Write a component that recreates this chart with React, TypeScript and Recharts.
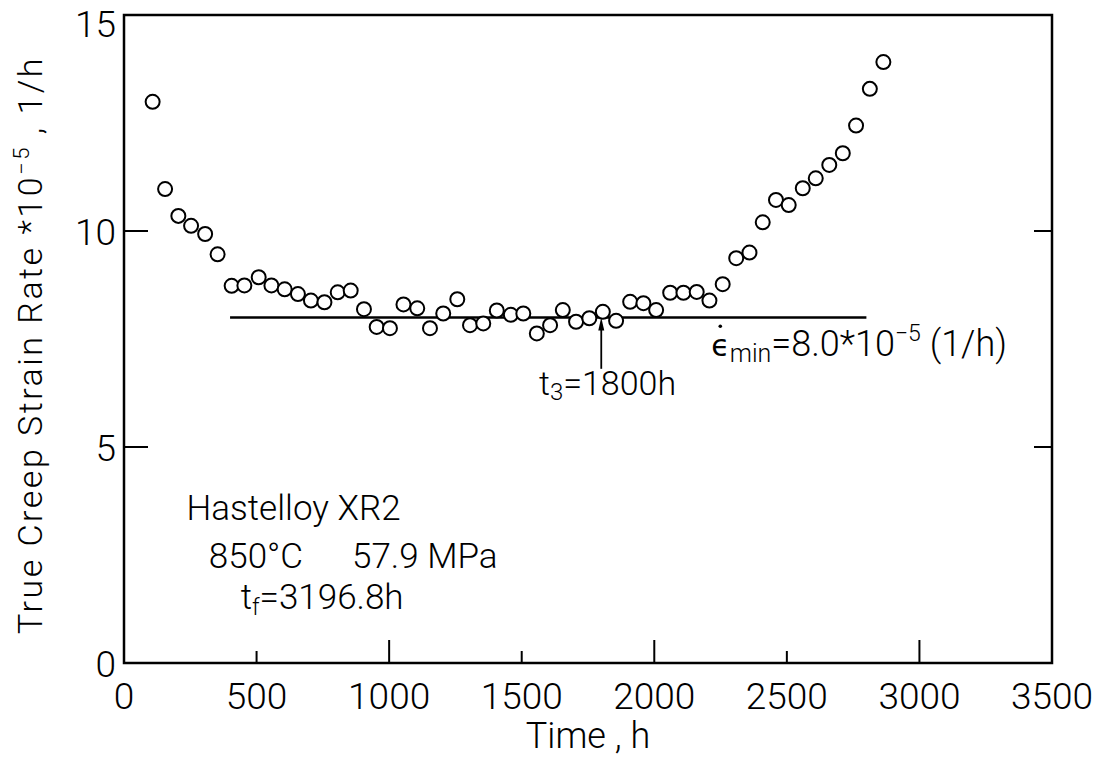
import React from "react";
import { ComposedChart, Scatter, XAxis, YAxis, ReferenceLine, ReferenceArea, ReferenceDot } from "recharts";

// creep test, Hastelloy XR2 at 850°C / 57.9 MPa
const times = [108, 155, 205, 253, 306, 353, 406, 454, 508, 556, 606, 656, 705, 756, 806, 855, 905, 953, 1003, 1054, 1106, 1154, 1204, 1257, 1305, 1355, 1406, 1459, 1506, 1557, 1607, 1655, 1705, 1755, 1806, 1856, 1909, 1959, 2007, 2060, 2110, 2160, 2208, 2258, 2309, 2359, 2409, 2459, 2507, 2560, 2609, 2660, 2711, 2761, 2813, 2864];
const rates = [12.99, 10.97, 10.35, 10.12, 9.93, 9.46, 8.73, 8.74, 8.93, 8.74, 8.65, 8.54, 8.39, 8.35, 8.58, 8.62, 8.19, 7.78, 7.75, 8.3, 8.21, 7.75, 8.09, 8.42, 7.82, 7.86, 8.16, 8.06, 8.09, 7.63, 7.82, 8.17, 7.9, 7.98, 8.13, 7.92, 8.36, 8.33, 8.17, 8.57, 8.57, 8.59, 8.39, 8.77, 9.37, 9.5, 10.2, 10.72, 10.6, 10.99, 11.22, 11.53, 11.8, 12.44, 13.29, 13.91];

const xTicks = [0, 500, 1000, 1500, 2000, 2500, 3000, 3500];
const yTicks = [0, 5, 10, 15];

// minimum creep rate line and onset of tertiary creep
const minRate = 8.0;
const minLineSpan = [400, 2800];
const t3 = 1800;

const points = times.map((t, i) => ({ t, v: rates[i] }));
const minLine = minLineSpan.map((t) => ({ t, v: minRate }));

const FONT = "Roboto, 'Liberation Sans', sans-serif";
const ink = "#000";

const XTick = (p: any) => {
  const val = p.payload.value;
  const len = val === 0 || val === 3500 ? 0 : val % 1000 === 0 ? 23 : 12;
  return (
    <g>
      {len > 0 && <line x1={p.x} y1={p.y} x2={p.x} y2={p.y - len} stroke={ink} strokeWidth={2} />}
      <text x={p.x} y={p.y + 46} textAnchor="middle" fontSize={37} fontFamily={FONT} fontWeight={300} fill={ink}>
        {val}
      </text>
    </g>
  );
};

const YTick = (p: any) => {
  const val = p.payload.value;
  const len = val === 0 || val === 15 ? 0 : 24;
  // top label sits a little lower so it stays inside the picture
  const dy = val === 15 ? 22 : 14;
  return (
    <g>
      {len > 0 && <line x1={p.x} y1={p.y} x2={p.x + len} y2={p.y} stroke={ink} strokeWidth={2} />}
      <text x={p.x - 8} y={p.y + dy} textAnchor="end" fontSize={37} fontFamily={FONT} fontWeight={300} fill={ink}>
        {val}
      </text>
    </g>
  );
};

const txt = { fontFamily: FONT, fontWeight: 300, fill: ink } as const;

const note = (render: (x: number, y: number) => React.ReactNode) => (p: any) => {
  const vb = p.viewBox || {};
  return render(vb.x + (vb.width || 0) / 2, vb.y + (vb.height || 0) / 2);
};

const Arrow = (p: any) => {
  const { x1, y1, x2, y2 } = p;
  return (
    <g>
      <line x1={x1} y1={y1} x2={x2} y2={y2 + 8} stroke={ink} strokeWidth={1.8} />
      <polygon points={`${x2},${y2} ${x2 - 3},${y2 + 13} ${x2 + 3},${y2 + 13}`} fill={ink} />
    </g>
  );
};

export default function App() {
  return (
    <div style={{ position: "absolute", left: 0, top: 0, background: "#fff" }}>
      <ComposedChart width={1104} height={758} margin={{ top: 15, right: 52, bottom: 45, left: 64 }}>
        <XAxis
          dataKey="t"
          type="number"
          domain={[0, 3500]}
          ticks={xTicks}
          interval={0}
          tick={XTick}
          tickLine={false}
          axisLine={false}
          tickSize={0}
          tickMargin={0}
          height={50}
          label={{
            content: (p: any) => (
              <text x={p.viewBox.x + p.viewBox.width / 2} y={p.viewBox.y + 85} textAnchor="middle" fontSize={36} {...txt}>
                Time , h
              </text>
            ),
          }}
        />
        <YAxis
          dataKey="v"
          type="number"
          domain={[0, 15]}
          ticks={yTicks}
          interval={0}
          tick={YTick}
          tickLine={false}
          axisLine={false}
          tickSize={0}
          tickMargin={0}
          width={60}
          label={{
            content: (p: any) => {
              const cx = p.viewBox.x - 22;
              const cy = p.viewBox.y + p.viewBox.height / 2 + 6;
              return (
                <text x={cx} y={cy} transform={`rotate(-90 ${cx} ${cy})`} textAnchor="middle" fontSize={34} letterSpacing={2.5} {...txt}>
                  True Creep Strain Rate{"  "}*10
                  <tspan dy={-13} fontSize={22}>−5</tspan>
                  <tspan dy={13}>{"   "}, 1/h</tspan>
                </text>
              );
            },
          }}
        />
        <ReferenceArea x1={0} x2={3500} y1={0} y2={15} fill="none" stroke={ink} strokeWidth={2.5} ifOverflow="visible" />
        <ReferenceLine segment={[{ x: 3500, y: 5 }, { x: 3432, y: 5 }]} stroke={ink} strokeWidth={2} />
        <ReferenceLine segment={[{ x: 3500, y: 10 }, { x: 3432, y: 10 }]} stroke={ink} strokeWidth={2} />
        <ReferenceLine segment={[{ x: t3, y: 6.81 }, { x: t3, y: minRate }]} shape={Arrow} />

        <Scatter data={minLine} line={{ stroke: ink, strokeWidth: 2.5 }} shape={() => <g />} isAnimationActive={false} />
        <Scatter
          data={points}
          isAnimationActive={false}
          shape={(p: any) => <circle cx={p.cx} cy={p.cy} r={7} fill="#fff" stroke={ink} strokeWidth={2} />}
        />

        <ReferenceDot x={2215} y={7.1} r={0} fill="none" stroke="none"
          label={note((x, y) => (
            <g>
              <circle cx={x + 9} cy={y - 30} r={1.8} fill={ink} />
              <text x={x} y={y} fontSize={36} {...txt}>
                <tspan fontFamily="'DejaVu Sans', sans-serif" fontWeight={400} fontSize={30}>ϵ</tspan>
                <tspan fontSize={25} dy={6}>min</tspan>
                <tspan dy={-6}>=8.0*10</tspan>
                <tspan fontSize={23} dy={-15}>−5</tspan>
                <tspan dy={15}> (1/h)</tspan>
              </text>
            </g>
          ))}
        />
        <ReferenceDot x={1565} y={6.2} r={0} fill="none" stroke="none"
          label={note((x, y) => (
            <text x={x} y={y} fontSize={34} {...txt}>
              t<tspan fontSize={24} dy={5}>3</tspan>
              <tspan dy={-5}>=1800h</tspan>
            </text>
          ))}
        />
        <ReferenceDot x={236} y={3.31} r={0} fill="none" stroke="none"
          label={note((x, y) => (
            <text x={x} y={y} fontSize={35} {...txt}>Hastelloy XR2</text>
          ))}
        />
        <ReferenceDot x={320} y={2.2} r={0} fill="none" stroke="none"
          label={note((x, y) => (
            <text x={x} y={y} fontSize={35} {...txt}>850°C</text>
          ))}
        />
        <ReferenceDot x={860} y={2.2} r={0} fill="none" stroke="none"
          label={note((x, y) => (
            <text x={x} y={y} fontSize={35} {...txt}>57.9 MPa</text>
          ))}
        />
        <ReferenceDot x={440} y={1.25} r={0} fill="none" stroke="none"
          label={note((x, y) => (
            <text x={x} y={y} fontSize={35} {...txt}>
              t<tspan fontSize={23} dy={6}>f</tspan>
              <tspan dy={-6}>=3196.8h</tspan>
            </text>
          ))}
        />
      </ComposedChart>
    </div>
  );
}
